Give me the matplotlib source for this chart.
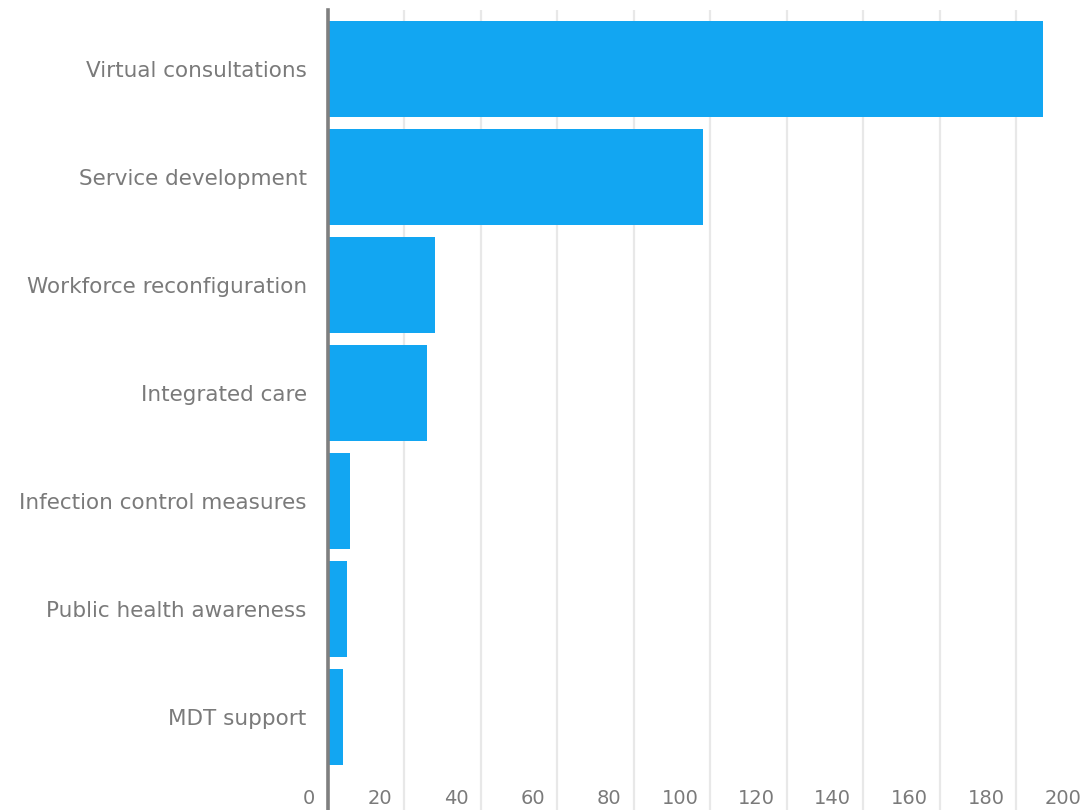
import matplotlib
matplotlib.use("Agg")
import matplotlib.pyplot as plt
import matplotlib.transforms as mtransforms

categories = [
    "Virtual consultations",
    "Service development",
    "Workforce reconfiguration",
    "Integrated care",
    "Infection control measures",
    "Public health awareness",
    "MDT support",
]
counts = [187, 98, 28, 26, 6, 5, 4]
xticks = [0, 20, 40, 60, 80, 100, 120, 140, 160, 180, 200]

W, H = 1083, 810
fig = plt.figure(figsize=(W / 100, H / 100), dpi=100)
# plot area runs a little past the right edge so the 200 line sits off-canvas
left, right, top, bottom = 327.5, 1093, 10, 810
ax = fig.add_axes([left / W, 1 - bottom / H, (right - left) / W, (bottom - top) / H])

font = "DejaVu Sans"
grey = "#7a7a7a"

ypos = list(range(len(categories)))
ax.barh(ypos, counts, height=0.89, color="#12a6f2", zorder=2)

ax.set_xlim(0, 200)
# band centre i sits at 69 + 108*i px from the top
ax.set_ylim((bottom - 69) / 108, (top - 69) / 108)

for v in xticks[1:]:
    ax.axvline(v, color="#e8e8e8", lw=1.6, zorder=1)

for s in ("top", "right", "bottom"):
    ax.spines[s].set_visible(False)
ax.spines["left"].set_color("#7f7f7f")
ax.spines["left"].set_linewidth(2.6)
ax.spines["left"].set_zorder(3)

ax.set_xticks([])
ax.set_yticks(ypos)
ax.set_yticklabels(categories, fontsize=15.5, color=grey, family=font)
ax.tick_params(axis="y", length=0, pad=15)

# value labels along the bottom, set just left of each grid line
trans = mtransforms.offset_copy(ax.transData, fig=fig, x=-12, y=0, units="dots")
ylab = (798 - 69) / 108
for v in xticks:
    ax.text(v, ylab, str(v), transform=trans, ha="right", va="center",
            fontsize=14, color=grey, family=font)

fig.savefig("out.png", dpi=100)
